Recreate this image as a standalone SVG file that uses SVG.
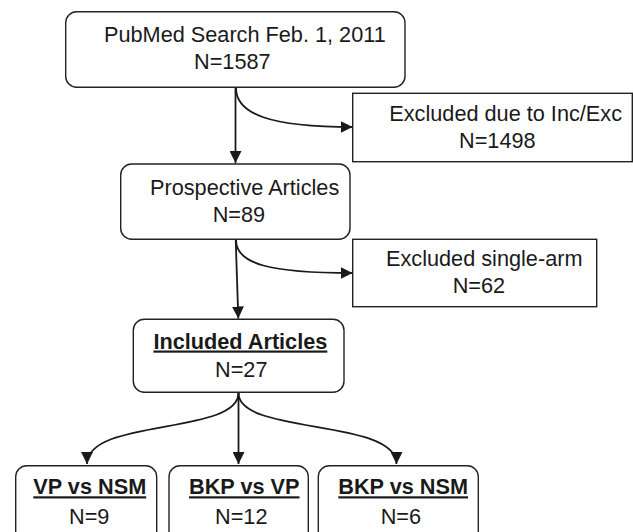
<svg xmlns="http://www.w3.org/2000/svg" width="633" height="532" viewBox="0 0 633 532">
  <style>
    text { font-family: "Liberation Sans", Arial, Helvetica, sans-serif; font-size: 21.7px; fill: #1a1a1a; }
    .b { font-weight: bold; text-decoration: underline; }
    .box { fill: #ffffff; stroke: #222222; stroke-width: 1.4; }
    .conn { fill: none; stroke: #1a1a1a; stroke-width: 1.8; }
  </style>
  <defs>
    <marker id="ah" markerUnits="userSpaceOnUse" markerWidth="12" markerHeight="12" refX="12" refY="6" orient="auto">
      <path d="M0,0 L12,6 L0,12 z" fill="#1a1a1a"/>
    </marker>
  </defs>
  <rect width="633" height="532" fill="#ffffff"/>

  <g id="connectors">
    <path class="conn" d="M235.5,87.5 L235.5,163" marker-end="url(#ah)"/>
    <path class="conn" d="M236,88 C236,114 270,127 352.5,127" marker-end="url(#ah)"/>
    <path class="conn" d="M235.7,239.5 L238.3,318.5" marker-end="url(#ah)"/>
    <path class="conn" d="M236,240 C236,264 270,273 352.5,273" marker-end="url(#ah)"/>
    <path class="conn" d="M238.5,392.5 L238.5,464" marker-end="url(#ah)"/>
    <path class="conn" d="M238.5,393 C238.5,435 87,418 87,464" marker-end="url(#ah)"/>
    <path class="conn" d="M238.5,393 C238.5,435 396.5,418 396.5,464" marker-end="url(#ah)"/>
  </g>

  <g id="pubmed">
    <rect class="box" x="65.7" y="11.7" width="339.3" height="75.6" rx="11"/>
    <text x="104" y="42">PubMed Search Feb. 1, 2011</text>
    <text x="194" y="68.5">N=1587</text>
  </g>

  <g id="excluded-incexc">
    <rect class="box" x="352.7" y="93.3" width="279.6" height="68.4"/>
    <text x="389.3" y="120.7">Excluded due to Inc/Exc</text>
    <text x="459" y="147.7">N=1498</text>
  </g>

  <g id="prospective">
    <rect class="box" x="120.7" y="164" width="229.3" height="75.3" rx="11"/>
    <text x="150" y="195">Prospective Articles</text>
    <text x="212.7" y="222.3">N=89</text>
  </g>

  <g id="excluded-single">
    <rect class="box" x="352.7" y="239.3" width="244" height="67.4"/>
    <text x="386" y="266">Excluded single-arm</text>
    <text x="452.7" y="292.7">N=62</text>
  </g>

  <g id="included">
    <rect class="box" x="133.3" y="319.3" width="210.7" height="73" rx="11"/>
    <text class="b" x="153.4" y="348.5">Included Articles</text>
    <text x="215" y="376.7">N=27</text>
  </g>

  <g id="vp-nsm">
    <rect class="box" x="15.7" y="465.7" width="141" height="80" rx="11"/>
    <text class="b" x="33.3" y="494.3">VP vs NSM</text>
    <text x="69" y="524.3">N=9</text>
  </g>

  <g id="bkp-vp">
    <rect class="box" x="169" y="465.7" width="139.3" height="80" rx="11"/>
    <text class="b" x="189" y="494.3">BKP vs VP</text>
    <text x="215" y="524.3">N=12</text>
  </g>

  <g id="bkp-nsm">
    <rect class="box" x="318.3" y="465.7" width="160" height="80" rx="11"/>
    <text class="b" x="338.3" y="494.3">BKP vs NSM</text>
    <text x="380.7" y="524.3">N=6</text>
  </g>
</svg>
